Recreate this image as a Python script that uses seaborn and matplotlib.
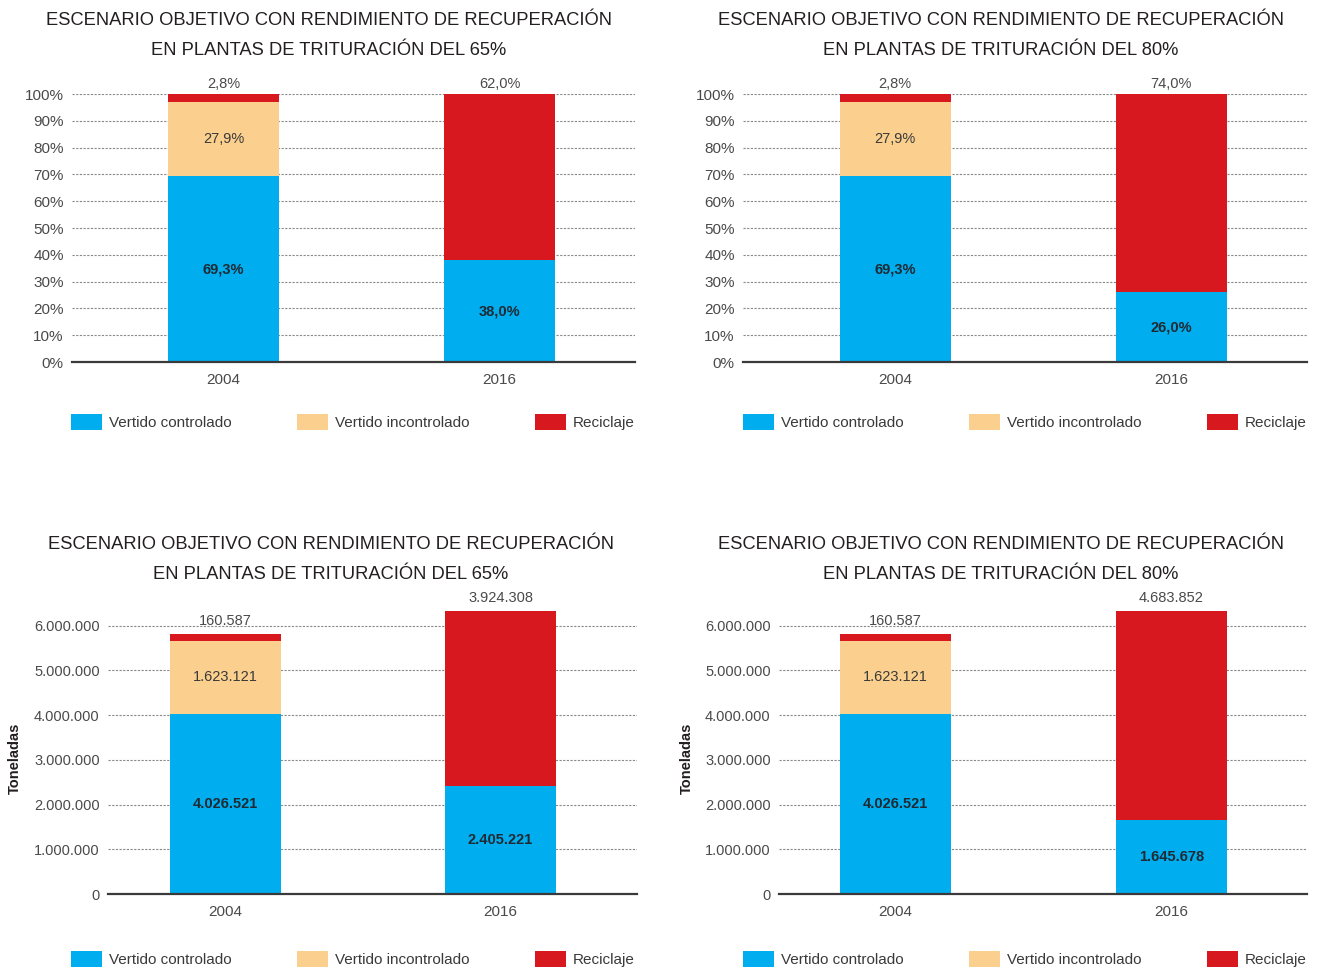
import matplotlib
matplotlib.use("Agg")
import matplotlib.pyplot as plt
from matplotlib import font_manager
from matplotlib.patches import Patch
import seaborn as sns
import numpy as np

# ---------------- data ----------------
years = ["2004", "2016"]
series = ["Vertido controlado", "Vertido incontrolado", "Reciclaje"]
colors = ["#00AEEF", "#FBCF8E", "#D7191F"]

title_65 = "ESCENARIO OBJETIVO CON RENDIMIENTO DE RECUPERACIÓN\nEN PLANTAS DE TRITURACIÓN DEL 65%"
title_80 = "ESCENARIO OBJETIVO CON RENDIMIENTO DE RECUPERACIÓN\nEN PLANTAS DE TRITURACIÓN DEL 80%"

pct_65_controlado = [69.3, 38.0]
pct_65_incontrolado = [27.9, 0.0]
pct_65_reciclaje = [2.8, 62.0]

pct_80_controlado = [69.3, 26.0]
pct_80_incontrolado = [27.9, 0.0]
pct_80_reciclaje = [2.8, 74.0]

ton_65_controlado = [4026521, 2405221]
ton_65_incontrolado = [1623121, 0]
ton_65_reciclaje = [160587, 3924308]

ton_80_controlado = [4026521, 1645678]
ton_80_incontrolado = [1623121, 0]
ton_80_reciclaje = [160587, 4683852]

pct_ticks = [0, 10, 20, 30, 40, 50, 60, 70, 80, 90, 100]
ton_ticks = [0, 1000000, 2000000, 3000000, 4000000, 5000000, 6000000]

# ---------------- style ----------------
sns.set_theme(style="white")
names = {f.name for f in font_manager.fontManager.ttflist}
base_font = "Liberation Sans" if "Liberation Sans" in names else "DejaVu Sans"
if "Liberation Sans Narrow" in names:
    title_font = "Liberation Sans Narrow"
    title_size = 16.5
    title_ls = 1.55
else:
    title_font = base_font
    title_size = 13.2
    title_ls = 1.97
plt.rcParams["font.family"] = [base_font, "DejaVu Sans"]

W, H = 1319, 971
fig = plt.figure(figsize=(W / 100, H / 100), dpi=100)


def fmt_pct(v):
    return f"{v:.1f}".replace(".", ",") + "%"


def fmt_ton(v):
    return f"{int(v):,}".replace(",", ".")


def make_axes(px_left, px_right, px_bottom, px_top):
    return fig.add_axes([px_left / W, 1 - px_bottom / H,
                         (px_right - px_left) / W, (px_bottom - px_top) / H])


def draw_panel(ax, ctrl, inc, rec, ticks, ylim, fmt, tickfmt, ticksize, xlim, top_off):
    ctrl = np.array(ctrl, dtype=float)
    inc = np.array(inc, dtype=float)
    rec = np.array(rec, dtype=float)
    cum1 = ctrl
    cum2 = ctrl + inc
    cum3 = ctrl + inc + rec
    for vals, col in [(cum3, colors[2]), (cum2, colors[1]), (cum1, colors[0])]:
        sns.barplot(x=years, y=vals, color=col, saturation=1, width=0.402,
                    ax=ax, linewidth=0, edgecolor="none", zorder=3)
    ax.set_xlim(*xlim)
    ax.set_ylim(*ylim)
    ax.set_yticks(ticks)
    ax.set_yticklabels([tickfmt(t) for t in ticks], fontsize=ticksize, color="#4a4a4a")
    ax.tick_params(axis="x", labelsize=11, colors="#4a4a4a", pad=8, length=0)
    ax.tick_params(axis="y", length=0, pad=6)
    ax.set_xlabel("")
    ax.set_ylabel("")
    ax.set_axisbelow(True)
    ax.yaxis.grid(True, color="#8a8a8a", linewidth=0.8, linestyle=(0, (2, 1.3)))
    ax.xaxis.grid(False)
    for s in ["top", "right", "left"]:
        ax.spines[s].set_visible(False)
    ax.spines["bottom"].set_color("#3a3a3a")
    ax.spines["bottom"].set_linewidth(1.6)
    ax.spines["bottom"].set_zorder(4)
    for i in range(len(years)):
        ax.text(i, cum1[i] / 2, fmt(ctrl[i]), ha="center", va="center",
                fontsize=10.5, fontweight="bold", color="#1f2a33", zorder=5)
        if inc[i] > 0:
            ax.text(i, ctrl[i] + inc[i] / 2, fmt(inc[i]), ha="center", va="center",
                    fontsize=10.5, color="#3a3a3a", zorder=5)
        if rec[i] > 0:
            ax.annotate(fmt(rec[i]), xy=(i, cum3[i]), xytext=(0, top_off),
                        textcoords="offset points", ha="center", va="bottom",
                        fontsize=10.5, color="#4a4a4a", zorder=5,
                        annotation_clip=False)
    handles = [Patch(facecolor=c, edgecolor="none") for c in colors]
    return handles


def add_legend(ax, handles, px_left, px_right, px_y):
    fs = 11
    fpx = fs * 100 / 72
    leg = ax.legend(handles, series, ncol=3, mode="expand", loc="center",
                    bbox_to_anchor=(px_left / W, 1 - px_y / H - 0.01,
                                    (px_right - px_left) / W, 0.02),
                    bbox_transform=fig.transFigure, frameon=False,
                    fontsize=fs, handlelength=31 / fpx, handleheight=19 / fpx,
                    handletextpad=7 / fpx, borderpad=0, borderaxespad=0,
                    columnspacing=1.0)
    for t in leg.get_texts():
        t.set_color("#3a3a3a")


def add_title(text, px_x, px_y1):
    fig.text(px_x / W, 1 - px_y1 / H, text, ha="center", va="top",
             fontsize=title_size, family=[title_font, "DejaVu Sans"],
             color="#231F20", linespacing=title_ls)


# top-left: percentages 65%
ax1 = make_axes(72, 635, 362, 94)
h = draw_panel(ax1, pct_65_controlado, pct_65_incontrolado, pct_65_reciclaje,
               pct_ticks, (0, 100), fmt_pct, lambda t: f"{t}%", 11,
               (-0.549, 1.491), 2)
add_legend(ax1, h, 71, 635, 422)
add_title(title_65, 329, 12)

# top-right: percentages 80%
ax2 = make_axes(743, 1307, 362, 94)
h = draw_panel(ax2, pct_80_controlado, pct_80_incontrolado, pct_80_reciclaje,
               pct_ticks, (0, 100), fmt_pct, lambda t: f"{t}%", 11,
               (-0.551, 1.491), 2)
add_legend(ax2, h, 743, 1307, 422)
add_title(title_80, 1001, 12)

# bottom-left: tonnes 65%
ton_top = 6350000
ax3 = make_axes(108, 637, 894, 894 - 268.5 * ton_top / 6000000)
h = draw_panel(ax3, ton_65_controlado, ton_65_incontrolado, ton_65_reciclaje,
               ton_ticks, (0, ton_top), fmt_ton, fmt_ton, 10.5,
               (-0.427, 1.496), 4)
add_legend(ax3, h, 71, 635, 959)
add_title(title_65, 331, 536)

# bottom-right: tonnes 80%
ax4 = make_axes(779, 1307, 894, 894 - 268.5 * ton_top / 6000000)
h = draw_panel(ax4, ton_80_controlado, ton_80_incontrolado, ton_80_reciclaje,
               ton_ticks, (0, ton_top), fmt_ton, fmt_ton, 10.5,
               (-0.422, 1.491), 4)
add_legend(ax4, h, 743, 1307, 959)
add_title(title_80, 1001, 536)

for px_x in (15, 687):
    fig.text(px_x / W, 1 - 758 / H, "Toneladas", rotation=90, ha="center",
             va="center", fontsize=10.5, fontweight="bold", color="#231F20")

fig.savefig("out.png", dpi=100)
